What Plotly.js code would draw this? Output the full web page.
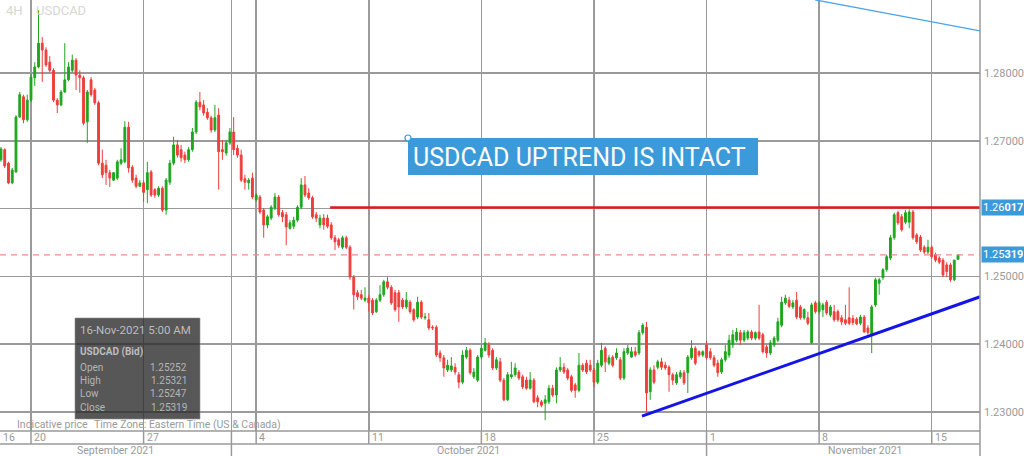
<!DOCTYPE html>
<html>
<head>
<meta charset="utf-8">
<script src="https://cdn.plot.ly/plotly-3.0.1.min.js"></script>
<style>html,body{margin:0;padding:0;background:#fff;}#chart{width:1024px;height:456px;}</style>
</head>
<body>
<div id="chart"></div>
<script>
// ---- Data (USDCAD 4H candles) ----
const firstBar = -8;
const opens = [1.2672,1.2687,1.2667,1.2638,1.2654,1.2735,1.2765,1.2731,
1.2760,1.2793,1.2809,1.2844,1.2834,1.2816,1.2804,1.2760,1.2753,1.2772,1.2790,1.2804,1.2819,1.2797,1.2793,1.2728,1.2790,1.2775,1.2756,1.2667,1.2664,1.2653,1.2642,1.2645,1.2667,1.2669,
1.2720,1.2661,1.2645,1.2633,1.2638,1.2628,1.2654,1.2628,1.2620,1.2630,1.2598,1.2639,1.2667,1.2694,1.2687,1.2679,1.2672,1.2687,1.2713,1.2757,1.2753,1.2742,1.2734,1.2716,1.2738,1.2687,1.2682,1.2697,1.2713,1.2689,1.2679,1.2644,
1.2638,1.2645,1.2613,1.2617,1.2598,1.2576,1.2586,1.2601,1.2617,1.2594,1.2591,1.2571,1.2574,1.2583,1.2602,1.2635,1.2623,1.2616,1.2591,1.2576,1.2586,1.2586,1.2576,1.2557,1.2554,1.2543,1.2557,1.2543,1.2499,1.2476,1.2473,1.2465,
1.2468,1.2465,1.2448,1.2465,1.2473,1.2492,1.2484,1.2476,1.2476,1.2465,1.2455,1.2462,1.2451,1.2440,1.2462,1.2439,1.2436,1.2425,1.2425,1.2387,1.2380,1.2362,1.2362,1.2366,1.2355,1.2344,1.2381,1.2391,1.2352,1.2347,1.2381,1.2391,
1.2399,1.2391,1.2365,1.2374,1.2347,1.2318,1.2352,1.2355,1.2359,1.2352,1.2347,1.2335,1.2347,1.2321,1.2315,1.2313,1.2315,1.2335,1.2325,1.2362,1.2366,1.2362,1.2352,1.2340,1.2332,1.2369,1.2372,1.2369,1.2362,1.2344,1.2369,
1.2394,1.2372,1.2381,1.2380,1.2377,1.2350,1.2387,1.2381,1.2389,1.2387,1.2417,1.2425,1.2330,1.2362,1.2366,1.2374,1.2369,1.2366,1.2355,1.2343,1.2352,1.2358,1.2358,1.2380,1.2394,1.2389,1.2384,
1.2399,1.2389,1.2380,1.2372,1.2359,1.2377,1.2384,1.2399,1.2406,1.2417,1.2406,1.2409,1.2418,1.2409,1.2418,1.2414,1.2396,1.2387,1.2399,1.2406,1.2428,1.2461,1.2465,1.2455,1.2465,1.2455,1.2439,1.2439,1.2402,1.2461,
1.2448,1.2451,1.2462,1.2443,1.2448,1.2448,1.2439,1.2436,1.2439,1.2438,1.2437,1.2431,1.2440,1.2424,1.2414,1.2458,1.2490,1.2498,1.2510,1.2527,1.2557,1.2594,1.2588,1.2580,1.2580,1.2595,1.2561,1.2558,1.2543,1.2536,
1.2543,1.2532,1.2527,1.2524,1.2517,1.2517,1.2495,1.25252];
const highs = [1.2691,1.2689,1.2669,1.2660,1.2738,1.2772,1.2768,1.2768,
1.2799,1.2816,1.2893,1.2853,1.2838,1.2825,1.2807,1.2763,1.2775,1.2844,1.2816,1.2827,1.2822,1.2804,1.2796,1.2775,1.2794,1.2778,1.2759,1.2687,1.2672,1.2657,1.2654,1.2672,1.2689,1.2729,
1.2728,1.2664,1.2650,1.2642,1.2642,1.2669,1.2657,1.2630,1.2633,1.2633,1.2645,1.2672,1.2706,1.2701,1.2694,1.2684,1.2691,1.2719,1.2760,1.2772,1.2760,1.2748,1.2737,1.2753,1.2748,1.2701,1.2701,1.2719,1.2735,1.2694,1.2687,1.2650,
1.2645,1.2653,1.2623,1.2620,1.2601,1.2591,1.2605,1.2623,1.2620,1.2598,1.2595,1.2583,1.2588,1.2605,1.2645,1.2648,1.2630,1.2619,1.2595,1.2591,1.2592,1.2591,1.2580,1.2561,1.2557,1.2560,1.2560,1.2546,1.2502,1.2480,1.2480,1.2484,
1.2473,1.2468,1.2468,1.2487,1.2495,1.2499,1.2487,1.2480,1.2480,1.2468,1.2477,1.2465,1.2453,1.2470,1.2465,1.2446,1.2446,1.2428,1.2428,1.2391,1.2384,1.2377,1.2381,1.2372,1.2359,1.2391,1.2396,1.2394,1.2365,1.2384,1.2399,1.2409,
1.2403,1.2394,1.2381,1.2380,1.2350,1.2359,1.2374,1.2372,1.2362,1.2355,1.2352,1.2359,1.2350,1.2325,1.2318,1.2325,1.2340,1.2340,1.2366,1.2381,1.2372,1.2365,1.2355,1.2343,1.2387,1.2372,1.2377,1.2377,1.2365,1.2377,1.2402,
1.2397,1.2384,1.2384,1.2394,1.2381,1.2394,1.2399,1.2396,1.2396,1.2421,1.2431,1.2433,1.2366,1.2369,1.2377,1.2380,1.2374,1.2369,1.2358,1.2359,1.2362,1.2362,1.2384,1.2406,1.2397,1.2391,1.2391,
1.2405,1.2394,1.2384,1.2377,1.2380,1.2399,1.2414,1.2421,1.2424,1.2421,1.2421,1.2421,1.2421,1.2419,1.2458,1.2417,1.2399,1.2406,1.2412,1.2439,1.2470,1.2473,1.2470,1.2465,1.2477,1.2458,1.2453,1.2448,1.2461,1.2464,
1.2464,1.2461,1.2465,1.2458,1.2458,1.2451,1.2443,1.2458,1.2484,1.2443,1.2440,1.2443,1.2443,1.2428,1.2458,1.2498,1.2498,1.2512,1.2532,1.2561,1.2594,1.2597,1.2592,1.2598,1.2599,1.2598,1.2564,1.2561,1.2546,1.2554,
1.2546,1.2535,1.2530,1.2527,1.2521,1.2520,1.2524,1.25321];
const lows = [1.2669,1.2660,1.2636,1.2636,1.2653,1.2734,1.2726,1.2728,
1.2757,1.2781,1.2807,1.2787,1.2809,1.2801,1.2757,1.2741,1.2751,1.2771,1.2788,1.2801,1.2775,1.2771,1.2723,1.2697,1.2765,1.2753,1.2664,1.2645,1.2635,1.2632,1.2641,1.2642,1.2664,1.2667,
1.2653,1.2638,1.2630,1.2632,1.2610,1.2608,1.2617,1.2616,1.2617,1.2595,1.2591,1.2635,1.2664,1.2675,1.2669,1.2667,1.2669,1.2684,1.2710,1.2745,1.2737,1.2731,1.2712,1.2713,1.2628,1.2672,1.2678,1.2694,1.2679,1.2675,1.2639,1.2628,
1.2628,1.2614,1.2610,1.2592,1.2557,1.2571,1.2583,1.2598,1.2588,1.2580,1.2546,1.2569,1.2570,1.2580,1.2599,1.2617,1.2613,1.2585,1.2580,1.2571,1.2569,1.2571,1.2554,1.2539,1.2542,1.2540,1.2540,1.2495,1.2451,1.2465,1.2465,1.2462,
1.2448,1.2443,1.2446,1.2462,1.2470,1.2481,1.2458,1.2448,1.2433,1.2452,1.2452,1.2445,1.2433,1.2437,1.2437,1.2436,1.2421,1.2421,1.2381,1.2374,1.2352,1.2359,1.2359,1.2355,1.2335,1.2341,1.2378,1.2355,1.2349,1.2344,1.2378,1.2389,
1.2380,1.2362,1.2362,1.2344,1.2316,1.2316,1.2349,1.2352,1.2347,1.2334,1.2333,1.2333,1.2313,1.2307,1.2307,1.2288,1.2312,1.2322,1.2313,1.2359,1.2356,1.2347,1.2329,1.2321,1.2329,1.2359,1.2356,1.2359,1.2337,1.2341,1.2366,
1.2359,1.2369,1.2366,1.2377,1.2347,1.2347,1.2384,1.2380,1.2381,1.2384,1.2414,1.2300,1.2318,1.2341,1.2363,1.2362,1.2362,1.2330,1.2340,1.2340,1.2349,1.2340,1.2328,1.2377,1.2369,1.2381,1.2381,
1.2377,1.2377,1.2366,1.2352,1.2356,1.2374,1.2380,1.2394,1.2403,1.2399,1.2403,1.2406,1.2406,1.2406,1.2406,1.2386,1.2380,1.2384,1.2396,1.2403,1.2425,1.2458,1.2453,1.2452,1.2437,1.2436,1.2436,1.2428,1.2400,1.2445,
1.2445,1.2440,1.2443,1.2440,1.2433,1.2433,1.2428,1.2428,1.2428,1.2428,1.2428,1.2428,1.2417,1.2414,1.2387,1.2455,1.2473,1.2495,1.2507,1.2524,1.2554,1.2576,1.2566,1.2577,1.2571,1.2554,1.2548,1.2536,1.2533,1.2533,
1.2526,1.2521,1.2518,1.2499,1.2499,1.2492,1.2493,1.25247];
const closes = [1.2688,1.2663,1.2638,1.2657,1.2735,1.2768,1.2731,1.2760,
1.2794,1.2809,1.2844,1.2834,1.2812,1.2804,1.2760,1.2753,1.2772,1.2790,1.2809,1.2819,1.2797,1.2793,1.2726,1.2772,1.2768,1.2756,1.2667,1.2650,1.2653,1.2645,1.2653,1.2669,1.2672,1.2720,
1.2660,1.2642,1.2633,1.2638,1.2624,1.2653,1.2620,1.2620,1.2630,1.2598,1.2642,1.2667,1.2694,1.2679,1.2675,1.2672,1.2687,1.2713,1.2757,1.2750,1.2741,1.2734,1.2716,1.2734,1.2684,1.2684,1.2697,1.2713,1.2687,1.2679,1.2642,1.2639,
1.2642,1.2617,1.2620,1.2595,1.2576,1.2588,1.2602,1.2617,1.2591,1.2588,1.2573,1.2579,1.2583,1.2602,1.2635,1.2620,1.2616,1.2588,1.2586,1.2586,1.2576,1.2574,1.2557,1.2551,1.2546,1.2557,1.2543,1.2499,1.2473,1.2470,1.2468,1.2468,
1.2461,1.2446,1.2465,1.2473,1.2492,1.2484,1.2461,1.2451,1.2455,1.2455,1.2465,1.2448,1.2436,1.2462,1.2440,1.2440,1.2424,1.2424,1.2384,1.2380,1.2365,1.2369,1.2368,1.2359,1.2344,1.2384,1.2391,1.2358,1.2359,1.2381,1.2394,1.2402,
1.2384,1.2365,1.2377,1.2347,1.2318,1.2355,1.2355,1.2365,1.2350,1.2337,1.2335,1.2347,1.2315,1.2315,1.2310,1.2318,1.2335,1.2325,1.2362,1.2366,1.2359,1.2350,1.2332,1.2332,1.2369,1.2362,1.2359,1.2362,1.2344,1.2372,1.2391,
1.2374,1.2380,1.2369,1.2387,1.2350,1.2389,1.2394,1.2389,1.2384,1.2417,1.2428,1.2328,1.2362,1.2344,1.2374,1.2366,1.2365,1.2355,1.2347,1.2355,1.2358,1.2343,1.2381,1.2394,1.2372,1.2384,1.2389,
1.2380,1.2380,1.2369,1.2358,1.2377,1.2389,1.2406,1.2414,1.2418,1.2406,1.2417,1.2418,1.2409,1.2417,1.2409,1.2389,1.2387,1.2402,1.2409,1.2433,1.2462,1.2468,1.2456,1.2461,1.2440,1.2439,1.2451,1.2431,1.2458,1.2448,
1.2461,1.2458,1.2446,1.2455,1.2436,1.2436,1.2433,1.2431,1.2431,1.2432,1.2430,1.2440,1.2418,1.2417,1.2455,1.2495,1.2495,1.2510,1.2529,1.2557,1.2591,1.2579,1.2569,1.2594,1.2595,1.2557,1.2551,1.2539,1.2536,1.2543,
1.2529,1.2524,1.2521,1.2502,1.2507,1.2495,1.2524,1.25319];

const priceTicks = [1.23, 1.24, 1.25, 1.26, 1.27, 1.28];
const dayLabels = ['16', '20', '27', '4', '11', '18', '25', '1', '8', '15'];
const monthLabels = ['September 2021', 'October 2021', 'November 2021'];
const barsPerWeek = 30;
const monthStartBars = [53.4, 180];        // Oct 1, Nov 1 (bar units)
const resistance = 1.26017;
const trendX = [162.8, 252.9];
const trendY = [1.2294, 1.2470];
const channelX = [208.9, 252.9];
const channelY = [1.2908, 1.2862];
const tooltipTitle = '16-Nov-2021 5:00 AM';
const symbolName = 'USDCAD';
const headline = 'USDCAD UPTREND IS INTACT';

// ---- Geometry ----
const W = 1024, H = 456, PW = 980, PH = 431;
const xRange = [-8.26, 252.86];
const yRange = [1.2272, 1.29077];
const px = v => v / PW;
const py = v => (PH - v) / PH;

const n = closes.length;
const xs = closes.map((_, i) => firstBar + i);
const last = n - 1;
const lastClose = closes[last];

const gridBars = dayLabels.slice(1).map((_, i) => i * barsPerWeek);
const allGrid = gridBars.concat([monthStartBars[0]]);

const GRID = '#9a9a9a';
const TXT = '#9a9a9a';
const BLUE_BOX = '#3b9ad9';
const FONT = 'Roboto, "Liberation Sans", sans-serif';

// tick labels hidden where a price box covers them (as in the reference)
const boxed = [resistance, lastClose];
const tickText = priceTicks.map(v => boxed.some(b => Math.abs(b - v) < 0.0012) ? '' : v.toFixed(5));

const traces = [
  {
    type: 'scatter', mode: 'lines', x: [xRange[0], xRange[1]], y: [lastClose, lastClose],
    line: {color: '#f08a8a', width: 1.2, dash: '6px,5px'}, hoverinfo: 'skip', showlegend: false
  },
  {
    type: 'candlestick', x: xs, open: opens, high: highs, low: lows, close: closes,
    increasing: {line: {color: '#1fa61f', width: 1}, fillcolor: '#1fa61f'},
    decreasing: {line: {color: '#ef3e3a', width: 1}, fillcolor: '#ef3e3a'},
    whiskerwidth: 0, hoverinfo: 'skip', showlegend: false
  },
  {
    type: 'scatter', mode: 'lines', x: [79.7, xRange[1]], y: [resistance, resistance],
    line: {color: '#e3191c', width: 2.6}, hoverinfo: 'skip', showlegend: false
  },
  {
    type: 'scatter', mode: 'lines', x: trendX, y: trendY,
    line: {color: '#1414e6', width: 3}, hoverinfo: 'skip', showlegend: false
  },
  {
    type: 'scatter', mode: 'lines', x: channelX, y: channelY,
    line: {color: '#4aa3e6', width: 1.2}, hoverinfo: 'skip', showlegend: false
  }
];

const shapes = [];
const annotations = [];

// date-row separators under weekly gridlines
allGrid.forEach(b => {
  const isMonth = monthStartBars.some(m => Math.abs(m - b) < 0.01);
  shapes.push({type: 'line', xref: 'x', yref: 'paper', x0: b, x1: b, y0: 0, y1: py(isMonth ? 456 : 444),
    line: {color: GRID, width: 1.5}, layer: 'above'});
});
// horizontal rows
shapes.push({type: 'line', xref: 'paper', yref: 'paper', x0: 0, x1: 1, y0: py(444), y1: py(444), line: {color: GRID, width: 1.5}});
shapes.push({type: 'line', xref: 'paper', yref: 'paper', x0: 0, x1: 1, y0: 0, y1: 0, line: {color: GRID, width: 1.5}});
shapes.push({type: 'line', xref: 'paper', yref: 'paper', x0: 1, x1: 1, y0: py(456), y1: 1, line: {color: GRID, width: 1.5}});

// annotation box
shapes.push({type: 'rect', xref: 'paper', yref: 'paper', x0: px(408), x1: px(758), y0: py(175), y1: py(138),
  fillcolor: BLUE_BOX, line: {width: 0}, layer: 'above'});
shapes.push({type: 'circle', xref: 'paper', yref: 'paper', x0: px(405), x1: px(411), y0: py(141), y1: py(135),
  fillcolor: 'rgba(255,255,255,0.9)', line: {color: BLUE_BOX, width: 1.2}, layer: 'above'});
annotations.push({xref: 'paper', yref: 'paper', x: px(411), y: py(158), xanchor: 'left', yanchor: 'middle',
  text: headline, showarrow: false, font: {family: FONT, size: 25, color: '#ffffff'}});

// tooltip box
shapes.push({type: 'rect', xref: 'paper', yref: 'paper', x0: px(75), x1: px(200), y0: py(419), y1: py(318),
  fillcolor: 'rgba(40,40,40,0.78)', line: {color: 'rgba(140,140,140,0.6)', width: 1}, layer: 'above'});
annotations.push({xref: 'paper', yref: 'paper', x: px(78), y: py(330), xanchor: 'left', yanchor: 'middle',
  text: tooltipTitle, showarrow: false, font: {family: FONT, size: 11.5, color: '#bdbdbd'}});
annotations.push({xref: 'paper', yref: 'paper', x: px(78), y: py(352), xanchor: 'left', yanchor: 'middle',
  text: '<b>' + symbolName + ' (Bid)</b>', showarrow: false, font: {family: FONT, size: 10, color: '#bdbdbd'}});
const rows = [['Open', opens[last]], ['High', highs[last]], ['Low', lows[last]], ['Close', closes[last]]];
const rowY = [367, 380, 393, 407];
rows.forEach((r, i) => {
  annotations.push({xref: 'paper', yref: 'paper', x: px(78), y: py(rowY[i]), xanchor: 'left', yanchor: 'middle',
    text: r[0], showarrow: false, font: {family: FONT, size: 10, color: '#b5b5b5'}});
  annotations.push({xref: 'paper', yref: 'paper', x: px(189), y: py(rowY[i]), xanchor: 'right', yanchor: 'middle',
    text: r[1].toFixed(5), showarrow: false, font: {family: FONT, size: 10, color: '#b5b5b5'}});
});

// top-left label
annotations.push({xref: 'paper', yref: 'paper', x: px(4), y: py(11), xanchor: 'left', yanchor: 'middle',
  text: '4H', showarrow: false, font: {family: FONT, size: 13, color: '#d6d6d6'}});
annotations.push({xref: 'paper', yref: 'paper', x: px(34), y: py(11), xanchor: 'left', yanchor: 'middle',
  text: symbolName, showarrow: false, font: {family: FONT, size: 13, color: '#d6d6d6'}});

// footer text
annotations.push({xref: 'paper', yref: 'paper', x: px(15), y: py(424.5), xanchor: 'left', yanchor: 'middle',
  text: 'Indicative price', showarrow: false, font: {family: FONT, size: 10.5, color: TXT}});
annotations.push({xref: 'paper', yref: 'paper', x: px(92), y: py(424.5), xanchor: 'left', yanchor: 'middle',
  text: 'Time Zone: Eastern Time (US & Canada)', showarrow: false, font: {family: FONT, size: 10.5, color: TXT}});

// day labels
annotations.push({xref: 'paper', yref: 'paper', x: px(1), y: py(438), xanchor: 'left', yanchor: 'middle',
  text: dayLabels[0], showarrow: false, font: {family: FONT, size: 10.5, color: TXT}});
gridBars.forEach((b, i) => {
  annotations.push({xref: 'x', yref: 'paper', x: b, xshift: 1, y: py(438), xanchor: 'left', yanchor: 'middle',
    text: dayLabels[i + 1], showarrow: false, font: {family: FONT, size: 10.5, color: TXT}});
});
// month labels
const xToPx = b => (b - xRange[0]) / (xRange[1] - xRange[0]) * PW;
const bounds = [0].concat(monthStartBars.map(xToPx)).concat([W]);
monthLabels.forEach((m, i) => {
  const c = (bounds[i] + bounds[i + 1]) / 2;
  annotations.push({xref: 'paper', yref: 'paper', x: px(c), y: py(450), xanchor: 'center', yanchor: 'middle',
    text: m, showarrow: false, font: {family: FONT, size: 10.5, color: TXT}});
});

// price boxes on the axis
function priceBox(p) {
  const s = p.toFixed(5);
  return {xref: 'paper', yref: 'y', x: 1, xshift: 1, y: p, xanchor: 'left', yanchor: 'middle',
    text: s.slice(0, 4) + '<b>' + s.slice(4) + '</b>', showarrow: false, align: 'left',
    bgcolor: BLUE_BOX, borderpad: 1, width: 40, height: 13,
    font: {family: FONT, size: 11, color: '#ffffff'}};
}
annotations.push(priceBox(resistance));
annotations.push(priceBox(lastClose));

const layout = {
  width: W, height: H,
  margin: {l: 0, r: W - PW, t: 0, b: H - PH, pad: 0},
  paper_bgcolor: '#ffffff', plot_bgcolor: '#ffffff',
  showlegend: false,
  font: {family: FONT, color: TXT},
  xaxis: {
    range: xRange, tickvals: allGrid, showticklabels: false, ticks: '',
    showgrid: true, gridcolor: GRID, gridwidth: 1.5, zeroline: false, showline: false,
    rangeslider: {visible: false}, fixedrange: true
  },
  yaxis: {
    range: yRange, side: 'right', tickvals: priceTicks, ticktext: tickText,
    ticks: '', ticklabelstandoff: 3, tickfont: {family: FONT, size: 11, color: TXT},
    showgrid: true, gridcolor: GRID, gridwidth: 1.5, zeroline: false, showline: false, fixedrange: true
  },
  shapes: shapes,
  annotations: annotations
};

Plotly.newPlot('chart', traces, layout, {staticPlot: true, displayModeBar: false});
</script>
</body>
</html>
